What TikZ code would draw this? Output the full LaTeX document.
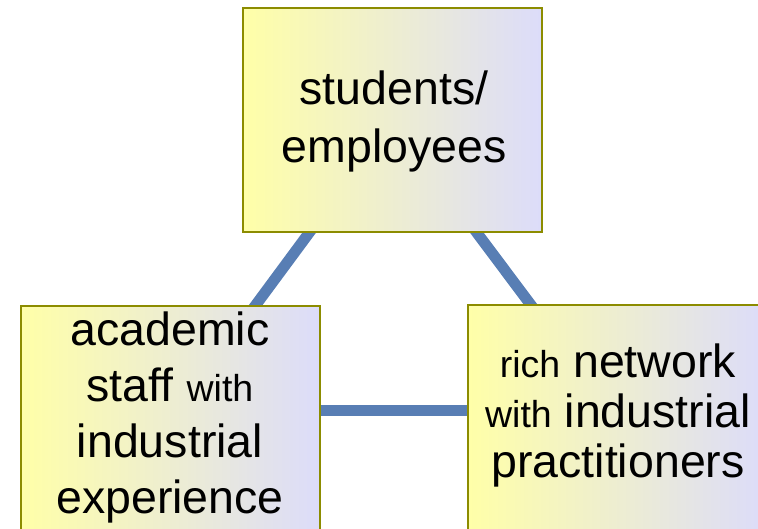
\documentclass[tikz,border=0pt]{standalone}
\usepackage{fontspec}
\setmainfont{Liberation Sans}
\usetikzlibrary{backgrounds}
\newcommand\smalltxt[1]{{\fontsize{37.5}{46}\selectfont #1}}
\definecolor{boxedge}{RGB}{140,140,0}
\definecolor{boxleft}{RGB}{255,255,168}
\definecolor{boxright}{RGB}{220,220,250}
\definecolor{linkblue}{RGB}{88,126,180}
\tikzset{
  box/.style={rectangle, draw=boxedge, line width=2pt, left color=boxleft, right color=boxright,
              minimum width=299pt, minimum height=#1, inner sep=0pt},
  txt/.style={align=center, inner sep=0pt, anchor=base},
  link/.style={draw=linkblue, line width=11pt}
}
\begin{document}
\begin{tikzpicture}[x=1pt,y=-1pt]
\useasboundingbox (0,0) rectangle (758,528);
% boxes
\node[box=224pt] (top) at (392.5,120) {};
\node[box=230pt] (left) at (170,421) {};
\node[box=230pt] (right) at (617,420) {};
% connectors
\coordinate (hl) at (0,410);
\begin{scope}[on background layer]
\draw[link] (top.center) -- (left.center);
\draw[link] (top.center) -- (right.center);
\draw[link] (left.east |- hl) -- (right.west |- hl);
\end{scope}
% texts (base anchor = baseline of the last line)
\node[txt, font=\fontsize{46.5}{58}\selectfont] (toptext) at (394,162) {students/\\employees};
\node[txt, font=\fontsize{46.5}{56}\selectfont] (lefttext) at (170,513) {academic\\staff \smalltxt{with}\\industrial\\experience};
\node[txt, font=\fontsize{46.5}{50}\selectfont] (righttext) at (618,477) {\smalltxt{rich} network\\\smalltxt{with} industrial\\practitioners};
\end{tikzpicture}
\end{document}
